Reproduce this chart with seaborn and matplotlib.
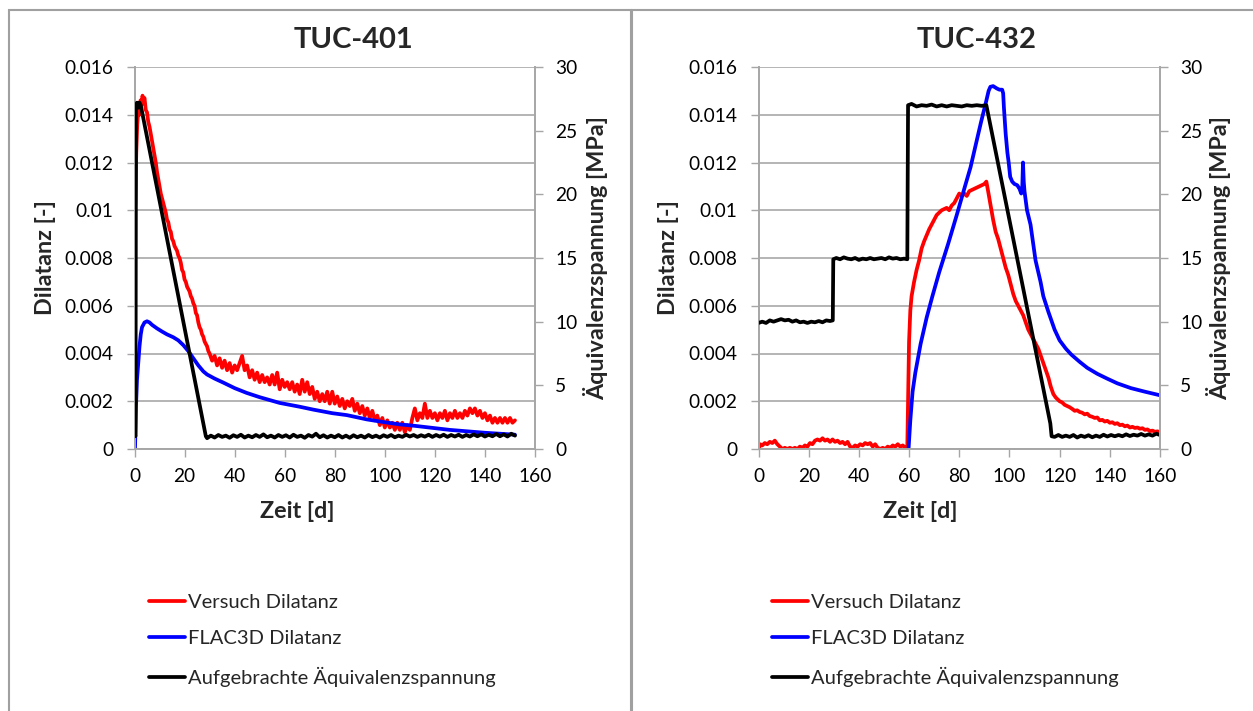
import matplotlib
matplotlib.use("Agg")
import matplotlib.pyplot as plt
import numpy as np
import pandas as pd
import seaborn as sns
from matplotlib.patches import Rectangle

# ---------------- data: TUC-401 ----------------
t401_red = [0.3, 0.7, 1.1, 1.5, 2.0, 2.4, 2.8, 3.2, 3.6, 4.0, 4.5, 5.0, 5.5, 6.0, 6.5, 7.0, 7.5, 8.0, 8.5, 9.0,
            9.5, 10.0, 10.5, 11.0, 11.5, 12.0, 12.5, 13.0, 13.5, 14.0, 14.5, 15.0, 15.5, 16.0, 16.5, 17.0, 17.5,
            18.0, 18.5, 19.0, 19.5, 20.0, 20.5, 21.0, 21.5, 22.0, 22.5, 23.0, 23.5, 24.0, 24.5, 25.0, 25.5, 26.0,
            26.5, 27.0, 27.5, 28.0, 28.5, 29.0, 29.5, 30.0, 31.0, 32.0, 33.0, 34.0, 35.0, 36.0, 37.0, 38.0, 39.0,
            40.0, 41.0, 42.0, 43.0, 44.0, 45.0, 46.0, 47.0, 48.0, 49.0, 50.0, 51.0, 52.0, 53.0, 54.0, 55.0, 56.0,
            57.0, 58.0, 59.0, 60.0, 61.0, 62.0, 63.0, 64.0, 65.0, 66.0, 67.0, 68.0, 69.0, 70.0, 71.0, 72.0, 73.0,
            74.0, 75.0, 76.0, 77.0, 78.0, 79.0, 80.0, 81.0, 82.0, 83.0, 84.0, 85.0, 86.0, 87.0, 88.0, 89.0, 90.0,
            91.0, 92.0, 93.0, 94.0, 95.0, 96.0, 97.0, 98.0, 99.0, 100.0, 101.0, 102.0, 103.0, 104.0, 105.0, 106.0,
            107.0, 108.0, 109.0, 110.0, 111.0, 112.0, 113.0, 114.0, 115.0, 116.0, 117.0, 118.0, 119.0, 120.0,
            121.0, 122.0, 123.0, 124.0, 125.0, 126.0, 127.0, 128.0, 129.0, 130.0, 131.0, 132.0, 133.0, 134.0,
            135.0, 136.0, 137.0, 138.0, 139.0, 140.0, 141.0, 142.0, 143.0, 144.0, 145.0, 146.0, 147.0, 148.0,
            149.0, 150.0, 151.0, 152.0]
v401_red = [0.0102, 0.0124, 0.0136, 0.0142, 0.0140, 0.0146, 0.0144, 0.0148, 0.0146, 0.0147, 0.0142, 0.0141,
            0.0137, 0.0135, 0.0132, 0.0129, 0.0126, 0.0123, 0.0120, 0.0116, 0.0113, 0.0110, 0.0107, 0.0105,
            0.0103, 0.0101, 0.0099, 0.0096, 0.0095, 0.0092, 0.0091, 0.0088, 0.0087, 0.0085, 0.0084, 0.0083,
            0.0081, 0.0080, 0.0078, 0.0075, 0.0074, 0.0071, 0.0070, 0.0068, 0.0067, 0.0066, 0.0064, 0.0063,
            0.0061, 0.0060, 0.0057, 0.0056, 0.0053, 0.0051, 0.0050, 0.0048, 0.0047, 0.0045, 0.0044, 0.0043,
            0.0041, 0.0040, 0.0037, 0.0039, 0.0035, 0.0038, 0.0034, 0.0037, 0.0033, 0.0036, 0.0032, 0.0035,
            0.0033, 0.0036, 0.0039, 0.0033, 0.0035, 0.0030, 0.0033, 0.0029, 0.0032, 0.0028, 0.0031, 0.0028,
            0.0030, 0.0027, 0.0031, 0.0027, 0.0032, 0.0025, 0.0029, 0.0026, 0.0028, 0.0025, 0.0028, 0.0024,
            0.0027, 0.0023, 0.0029, 0.0024, 0.0028, 0.0023, 0.0026, 0.0021, 0.0024, 0.0020, 0.0023, 0.0020,
            0.0024, 0.0019, 0.0024, 0.0019, 0.0022, 0.0018, 0.0021, 0.0017, 0.0020, 0.0018, 0.0021, 0.0016,
            0.0019, 0.0015, 0.0018, 0.0014, 0.0017, 0.0013, 0.0016, 0.0012, 0.0014, 0.0010, 0.0013, 0.0009,
            0.0012, 0.0009, 0.0011, 0.0008, 0.0011, 0.0008, 0.0011, 0.0007, 0.0010, 0.0008, 0.0013, 0.0017,
            0.0012, 0.0015, 0.0013, 0.0019, 0.0013, 0.0016, 0.0013, 0.0015, 0.0012, 0.0015, 0.0013, 0.0016,
            0.0012, 0.0015, 0.0013, 0.0016, 0.0013, 0.0015, 0.0013, 0.0016, 0.0014, 0.0017, 0.0015, 0.0017,
            0.0014, 0.0016, 0.0013, 0.0015, 0.0012, 0.0014, 0.0011, 0.0013, 0.0011, 0.0013, 0.0011, 0.0013,
            0.0011, 0.0013, 0.0011, 0.0012]

t401_blue = [0.2, 0.6, 1.0, 1.5, 2.0, 2.5, 3.0, 4.0, 5.0, 6.0, 7.0, 9.0, 11.0, 13.0, 15.5, 17.5, 19.5, 21.5,
             23.5, 25.5, 27.5, 29.0, 32.0, 35.5, 40.0, 44.8, 50.0, 58.0, 66.0, 71.4, 79.0, 84.8, 92.8, 100.0,
             106.0, 112.0, 119.4, 126.0, 133.0, 140.0, 146.0, 152.0]
v401_blue = [0.0, 0.0018, 0.0029, 0.0036, 0.0043, 0.0048, 0.0051, 0.0053, 0.00535, 0.0053, 0.0052, 0.00505,
             0.00492, 0.0048, 0.00468, 0.00455, 0.00435, 0.0041, 0.0038, 0.0035, 0.00325, 0.00312, 0.00295,
             0.00278, 0.00255, 0.00235, 0.00217, 0.00193, 0.00177, 0.00165, 0.0015, 0.00142, 0.00124, 0.00112,
             0.00103, 0.00097, 0.00088, 0.0008, 0.00074, 0.00068, 0.00064, 0.0006]

t401_black = [0.0, 0.4, 0.6, 1.0, 1.5, 2.0, 2.5, 28.5, 29.0, 30.5, 32.0, 33.5, 35.0, 36.5, 38.0, 39.5, 41.0,
              42.5, 44.0, 45.5, 47.0, 48.5, 50.0, 51.5, 53.0, 54.5, 56.0, 57.5, 59.0, 60.5, 62.0, 63.5, 65.0,
              66.5, 68.0, 69.5, 71.0, 72.5, 74.0, 75.5, 77.0, 78.5, 80.0, 81.5, 83.0, 84.5, 86.0, 87.5, 89.0,
              90.5, 92.0, 93.5, 95.0, 96.5, 98.0, 99.5, 101.0, 102.5, 104.0, 105.5, 107.0, 108.5, 110.0, 111.5,
              113.0, 114.5, 116.0, 117.5, 119.0, 120.5, 122.0, 123.5, 125.0, 126.5, 128.0, 129.5, 131.0, 132.5,
              134.0, 135.5, 137.0, 138.5, 140.0, 141.5, 143.0, 144.5, 146.0, 147.5, 149.0, 150.5, 152.0]
v401_black = [1.2, 1.0, 27.0, 27.2, 26.8, 27.2, 27.0, 1.0, 0.85, 1.05, 0.9, 1.1, 0.95, 1.05, 0.88, 1.08, 0.95,
              1.12, 0.9, 1.05, 0.92, 1.1, 0.95, 1.15, 0.92, 1.05, 0.9, 1.1, 0.95, 1.08, 0.9, 1.12, 0.95, 1.05,
              0.88, 1.1, 0.97, 1.2, 0.92, 1.08, 0.9, 1.05, 0.92, 1.1, 0.9, 1.05, 0.88, 1.08, 0.92, 1.05, 0.9, 1.1,
              0.93, 1.05, 0.9, 1.08, 0.95, 1.1, 0.92, 1.05, 0.95, 1.12, 0.98, 1.1, 0.95, 1.08, 0.97, 1.12, 0.95,
              1.1, 0.97, 1.12, 0.95, 1.1, 0.98, 1.12, 0.95, 1.1, 0.98, 1.15, 1.0, 1.15, 0.98, 1.12, 1.0, 1.18,
              1.0, 1.15, 0.98, 1.2, 1.05]

# ---------------- data: TUC-432 ----------------
t432_red = [0.2, 0.6, 1.5, 2.5, 3.5, 4.5, 5.5, 6.5, 7.5, 8.5, 9.5, 10.5, 11.5, 12.5, 13.5, 14.5, 15.5, 16.5,
            17.5, 18.5, 19.5, 20.5, 21.5, 22.5, 23.5, 24.5, 25.5, 26.5, 27.5, 28.5, 29.5, 30.5, 31.5, 32.5, 33.5,
            34.5, 35.5, 36.5, 37.5, 38.5, 39.5, 40.5, 41.5, 42.5, 43.5, 44.5, 45.5, 46.5, 47.5, 48.5, 49.5, 50.5,
            51.5, 52.5, 53.5, 54.5, 55.5, 56.5, 57.5, 58.5, 59.3, 59.7, 60.0, 60.5, 61.0, 62.0, 63.0, 64.0, 65.0,
            66.0, 67.0, 68.0, 69.0, 70.0, 71.0, 72.0, 73.0, 74.0, 75.0, 76.0, 77.0, 78.0, 79.0, 80.0, 81.0, 82.0,
            83.0, 84.0, 85.0, 86.0, 87.0, 88.0, 89.0, 90.0, 90.8, 91.5, 92.5, 93.5, 94.5, 95.5, 96.5, 97.5, 98.5,
            99.5, 100.5, 101.5, 102.5, 103.5, 104.5, 105.5, 106.5, 107.5, 108.5, 109.5, 110.5, 111.5, 112.5,
            113.5, 114.5, 115.5, 116.5, 117.5, 118.5, 120.0, 121.0, 122.0, 123.0, 124.0, 125.0, 126.0, 127.0,
            128.0, 129.0, 130.0, 131.0, 132.0, 133.0, 134.0, 135.0, 136.0, 137.0, 138.0, 139.0, 140.0, 141.0,
            142.0, 143.0, 144.0, 145.0, 146.0, 147.0, 148.0, 149.0, 150.0, 151.0, 152.0, 153.0, 154.0, 155.0,
            156.0, 157.0, 158.0, 159.0, 160.0]
v432_red = [0.0, 0.0002, 0.00015, 0.00025, 0.0002, 0.0003, 0.00025, 0.00035, 0.0002, 0.0001, 0.0, 0.00005, 0.0,
            0.00005, 0.0, 0.00005, 0.0, 0.0001, 0.00005, 0.00015, 0.0001, 0.00025, 0.0002, 0.00035, 0.0004,
            0.00035, 0.00045, 0.00035, 0.0004, 0.0003, 0.0004, 0.0003, 0.00035, 0.00025, 0.0003, 0.0002, 0.0003,
            0.0001, 0.00005, 0.00015, 0.0001, 0.0002, 0.00015, 0.00025, 0.0002, 0.00025, 0.0001, 0.0002, 0.00005,
            0.0, 0.00005, 0.0, 0.0001, 0.00005, 0.00015, 0.0001, 0.0002, 0.0001, 0.00015, 0.00005, 0.0001,
            0.0025, 0.0045, 0.0058, 0.0064, 0.0070, 0.0075, 0.0079, 0.0084, 0.0087, 0.00895, 0.0092, 0.0094,
            0.0096, 0.0098, 0.0099, 0.0100, 0.01005, 0.0101, 0.0100, 0.0102, 0.0103, 0.0105, 0.0107, 0.0106,
            0.0107, 0.0106, 0.0108, 0.01085, 0.0109, 0.01095, 0.0110, 0.01105, 0.0111, 0.0112, 0.0108, 0.0102,
            0.0096, 0.0091, 0.0088, 0.0084, 0.0080, 0.0076, 0.0073, 0.0069, 0.0065, 0.0062, 0.0060, 0.0058,
            0.0056, 0.0053, 0.0050, 0.0048, 0.0046, 0.0044, 0.0042, 0.0039, 0.0036, 0.0033, 0.0030, 0.0026,
            0.0023, 0.00215, 0.0020, 0.00195, 0.00185, 0.0018, 0.00175, 0.00168, 0.0016, 0.00162, 0.00155,
            0.00152, 0.00145, 0.00148, 0.00138, 0.00135, 0.0013, 0.00132, 0.0012, 0.00122, 0.00115, 0.00118,
            0.0011, 0.00112, 0.00105, 0.00108, 0.001, 0.00102, 0.00095, 0.00098, 0.0009, 0.00093, 0.00088,
            0.0009, 0.00085, 0.00087, 0.0008, 0.00082, 0.00075, 0.00077, 0.00072, 0.00074, 0.0007]

t432_blue = [59.8, 60.5, 61.4, 62.5, 64.6, 67.0, 69.3, 72.0, 75.6, 79.0, 82.0, 84.5, 86.7, 88.7, 90.7, 91.7,
             92.4, 93.5, 95.0, 96.0, 97.1, 97.5, 97.8, 98.5, 99.2, 99.7, 100.3, 101.1, 102.0, 103.1, 104.0,
             104.7, 105.1, 105.4, 105.7, 106.0, 107.0, 108.4, 110.4, 112.4, 113.5, 115.5, 118.0, 120.0, 122.5,
             124.7, 128.0, 131.0, 135.0, 138.9, 143.0, 148.4, 154.0, 160.0]
v432_blue = [0.0, 0.0012, 0.0024, 0.0032, 0.0044, 0.0055, 0.0064, 0.0074, 0.0086, 0.0098, 0.0109, 0.0118,
             0.0128, 0.0137, 0.01455, 0.0150, 0.01517, 0.0152, 0.0151, 0.01505, 0.01505, 0.0149, 0.0143,
             0.0132, 0.0124, 0.0120, 0.0114, 0.0112, 0.0111, 0.01105, 0.0109, 0.0107, 0.0109, 0.0120, 0.0112,
             0.0108, 0.0100, 0.0094, 0.0079, 0.0070, 0.0064, 0.00575, 0.0050, 0.00455, 0.0042, 0.00395, 0.00365,
             0.0034, 0.00315, 0.00295, 0.00275, 0.00255, 0.0024, 0.00225]

t432_black = [0.0, 1.5, 3.0, 4.5, 6.0, 7.5, 9.0, 10.5, 12.0, 13.5, 15.0, 16.5, 18.0, 19.5, 21.0, 22.5, 24.0,
              25.5, 27.0, 28.5, 29.6, 29.8, 31.0, 32.5, 34.0, 35.5, 37.0, 38.5, 40.0, 41.5, 43.0, 44.5, 46.0,
              47.5, 49.0, 50.5, 52.0, 53.5, 55.0, 56.5, 58.0, 59.3, 59.6, 61.0, 63.0, 65.0, 67.0, 69.0, 71.0,
              73.0, 75.0, 77.0, 79.0, 81.0, 83.0, 85.0, 87.0, 89.0, 90.8, 116.3, 116.8, 118.0, 119.5, 121.0,
              122.5, 124.0, 125.5, 127.0, 128.5, 130.0, 131.5, 133.0, 134.5, 136.0, 137.5, 139.0, 140.5, 142.0,
              143.5, 145.0, 146.5, 148.0, 149.5, 151.0, 152.5, 154.0, 155.5, 157.0, 158.5, 160.0]
v432_black = [9.9, 10.0, 9.9, 10.1, 10.0, 10.1, 10.2, 10.1, 10.15, 10.0, 10.1, 9.95, 10.0, 9.9, 10.0, 9.95,
              10.05, 9.95, 10.1, 10.05, 10.1, 14.9, 15.0, 14.9, 15.05, 14.95, 14.9, 15.0, 14.85, 14.95, 14.9,
              15.0, 14.9, 14.95, 15.0, 14.9, 15.05, 14.95, 15.0, 14.9, 14.95, 14.9, 27.0, 27.1, 26.9, 27.0,
              26.95, 27.05, 26.9, 27.0, 26.9, 27.0, 26.95, 26.9, 27.0, 26.95, 27.0, 26.95, 27.0, 2.0, 1.0, 0.95,
              1.1, 0.95, 1.05, 0.95, 1.1, 0.9, 1.05, 0.95, 1.08, 0.92, 1.05, 0.95, 1.12, 0.98, 1.1, 1.0, 1.1, 1.0,
              1.15, 1.02, 1.12, 1.05, 1.18, 1.05, 1.15, 1.05, 1.2, 1.1]

titles = ["TUC-401", "TUC-432"]
legend_labels = ["Versuch Dilatanz", "FLAC3D Dilatanz", "Aufgebrachte Äquivalenzspannung"]
x_ticks = [0, 20, 40, 60, 80, 100, 120, 140, 160]
y_ticks = [0, 0.002, 0.004, 0.006, 0.008, 0.010, 0.012, 0.014, 0.016]
y_tick_labels = ["0", "0.002", "0.004", "0.006", "0.008", "0.01", "0.012", "0.014", "0.016"]
y2_ticks = [0, 5, 10, 15, 20, 25, 30]

panels = [
    dict(red=(t401_red, v401_red), blue=(t401_blue, v401_blue), black=(t401_black, v401_black)),
    dict(red=(t432_red, v432_red), blue=(t432_blue, v432_blue), black=(t432_black, v432_black)),
]

# ---------------- style ----------------
sns.set_theme(style="white")
plt.rcParams['font.family'] = ['Lato', 'DejaVu Sans']

W, H = 1253, 711
fig = plt.figure(figsize=(W / 100, H / 100), dpi=100)
fig.patch.set_facecolor("white")

def fx(px):
    return px / W

def fy(py):
    return 1 - py / H

GRID = "#b4b4b4"
SPINE = "#a6a6a6"
RED, BLUE, BLACK = "#ff0000", "#0000ff", "#000000"
LW = 2.7

layout = [
    dict(l=134.5, r=535.0, title_x=354, xlab_x=297, ylab_x=45, y2lab_x=596, frame=(8.5, 631.0), leg_x=149),
    dict(l=758.5, r=1160.0, title_x=977, xlab_x=920, ylab_x=668, y2lab_x=1219, frame=(631.5, 1260.0), leg_x=772),
]
top_px, bot_px = 67.0, 449.0

for p, lay, title in zip(panels, layout, titles):
    # panel frame
    fl, fr = lay["frame"]
    fig.add_artist(Rectangle((fx(fl), -0.05), (fr - fl) / W, fy(9.5) + 0.05, transform=fig.transFigure,
                             fill=False, ec="#a0a0a0", lw=1.5, zorder=0))

    ax = fig.add_axes([fx(lay["l"]), fy(bot_px), (lay["r"] - lay["l"]) / W, (bot_px - top_px) / H])
    ax.set_facecolor("none")
    ax2 = ax.twinx()

    df_r = pd.DataFrame({"Zeit": p["red"][0], "Dilatanz": p["red"][1]})
    df_b = pd.DataFrame({"Zeit": p["blue"][0], "Dilatanz": p["blue"][1]})
    df_k = pd.DataFrame({"Zeit": p["black"][0], "Spannung": p["black"][1]})

    sns.lineplot(data=df_r, x="Zeit", y="Dilatanz", ax=ax, color=RED, lw=LW, sort=False, estimator=None,
                 legend=False)
    sns.lineplot(data=df_b, x="Zeit", y="Dilatanz", ax=ax, color=BLUE, lw=LW, sort=False, estimator=None,
                 legend=False)
    sns.lineplot(data=df_k, x="Zeit", y="Spannung", ax=ax2, color=BLACK, lw=LW, sort=False, estimator=None,
                 legend=False)

    ax.set_xlim(0, 160)
    ax.set_ylim(0, 0.016)
    ax2.set_ylim(0, 30)
    ax.set_xticks(x_ticks)
    ax.set_xticklabels([str(v) for v in x_ticks])
    ax.set_yticks(y_ticks)
    ax.set_yticklabels(y_tick_labels)
    ax2.set_yticks(y2_ticks)
    ax2.set_yticklabels([str(v) for v in y2_ticks])

    ax.yaxis.grid(True, color=GRID, lw=1.4)
    ax.xaxis.grid(False)
    ax2.grid(False)
    ax.set_axisbelow(True)

    for a in (ax, ax2):
        for s in a.spines.values():
            s.set_visible(False)
    ax.spines["left"].set_visible(True)
    ax.spines["bottom"].set_visible(True)
    ax2.spines["right"].set_visible(True)
    for s in (ax.spines["left"], ax.spines["bottom"], ax2.spines["right"]):
        s.set_color(SPINE)
        s.set_linewidth(1.4)

    ax.tick_params(axis="y", which="major", left=True, length=5.5, width=1.0, color=SPINE, pad=9.5,
                   labelsize=13.8, labelcolor="black")
    ax.tick_params(axis="x", which="major", bottom=True, length=5.5, width=1.0, color=SPINE, pad=8,
                   labelsize=13.8, labelcolor="black")
    ax2.tick_params(axis="y", which="major", right=True, length=5.5, width=1.0, color=SPINE, pad=9,
                    labelsize=13.8, labelcolor="black")

    w_px = lay["r"] - lay["l"]
    h_px = bot_px - top_px
    ax.set_xlabel("Zeit [d]", fontsize=16.8, fontweight="bold")
    ax.xaxis.set_label_coords((lay["xlab_x"] - lay["l"]) / w_px, (bot_px - 512) / h_px)
    ax.xaxis.label.set_verticalalignment("center")
    ax.set_ylabel("Dilatanz [-]", fontsize=16.8, fontweight="bold")
    ax.yaxis.set_label_coords((lay["ylab_x"] - lay["l"]) / w_px, 0.5)
    ax.yaxis.label.set_verticalalignment("center")
    ax2.set_ylabel("Äquivalenzspannung [MPa]", fontsize=16.8, fontweight="bold")
    ax2.yaxis.set_label_coords((lay["y2lab_x"] - lay["l"]) / w_px, 0.5)
    ax2.yaxis.label.set_verticalalignment("center")

    fig.text(fx(lay["title_x"]), fy(40), title, ha="center", va="center", fontsize=21, fontweight="bold")

    handles = [ax.get_lines()[0], ax.get_lines()[1], ax2.get_lines()[0]]
    ax2.legend(handles, legend_labels, loc="upper left", bbox_to_anchor=(fx(lay["leg_x"]), fy(594)),
               bbox_transform=fig.transFigure, frameon=False, fontsize=14.5, handlelength=1.8,
               handletextpad=0.15, labelspacing=0.95, borderpad=0, borderaxespad=0)

fig.savefig("out.png", dpi=100, facecolor="white")
